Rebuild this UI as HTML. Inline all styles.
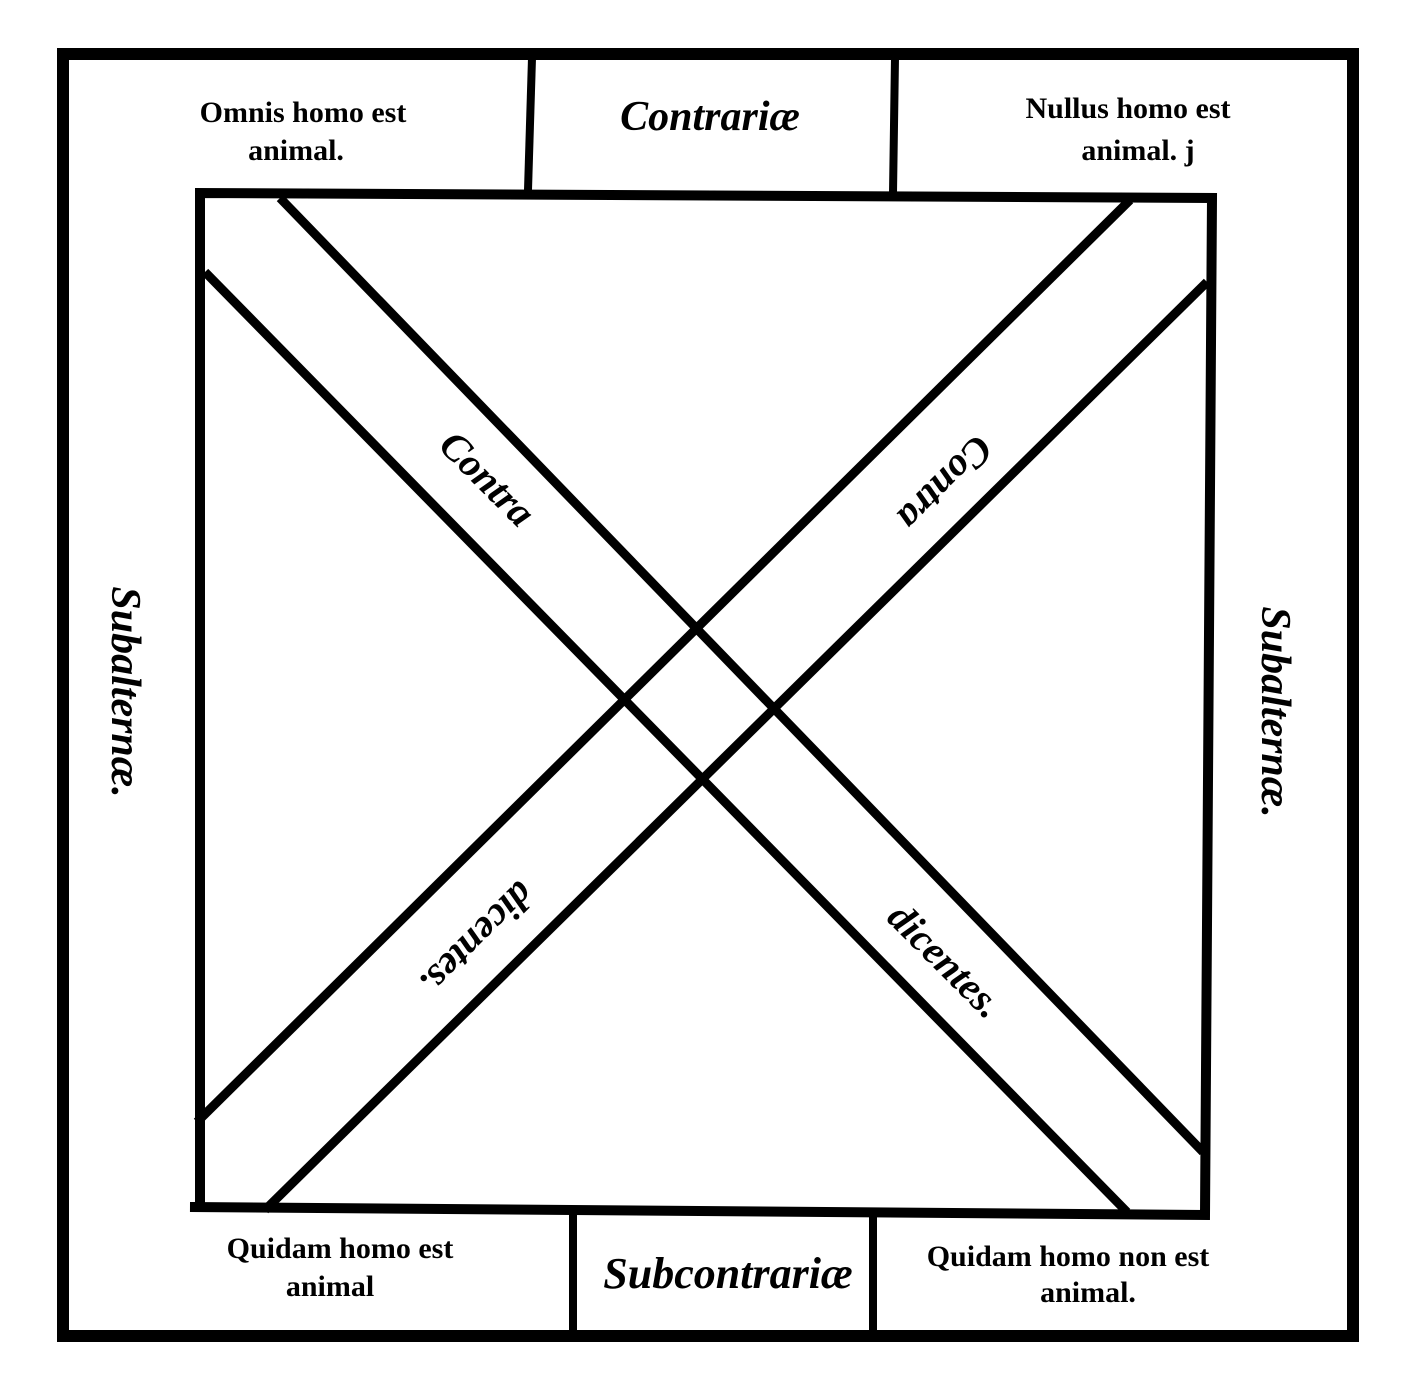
<!DOCTYPE html>
<html><head><meta charset="utf-8"><style>
html,body{margin:0;padding:0;background:#fff}
svg{display:block}
text{font-family:"Liberation Serif",serif;fill:#000;font-weight:bold}
.i{font-style:italic}
</style></head><body>
<svg width="1418" height="1386" viewBox="0 0 1418 1386" xmlns="http://www.w3.org/2000/svg">
<g stroke="#000" fill="none" stroke-linecap="square">
<rect x="63" y="54" width="1290" height="1282" stroke-width="12"/>
<polyline points="200,1207 200,193 1212,198 1205,1215 190,1207 200,1207" stroke-width="10"/>
<line x1="532" y1="58" x2="528" y2="190" stroke-width="8"/>
<line x1="895" y1="58" x2="893" y2="193" stroke-width="8"/>
<line x1="573" y1="1213" x2="573" y2="1333" stroke-width="8"/>
<line x1="873" y1="1215" x2="873" y2="1333" stroke-width="8"/>
<g stroke-width="9" stroke-linecap="butt">
<line x1="280" y1="198" x2="1203" y2="1152"/>
<line x1="205" y1="272" x2="1127" y2="1212"/>
<line x1="1130" y1="200" x2="197" y2="1122"/>
<line x1="1207" y1="282" x2="265" y2="1210"/>
</g>
</g>
<text x="303" y="122" font-size="30" text-anchor="middle">Omnis homo est</text>
<text x="296" y="160" font-size="30" text-anchor="middle">animal.</text>
<text x="710" y="130" font-size="42" class="i" text-anchor="middle">Contrariæ</text>
<text x="1128" y="118" font-size="30" text-anchor="middle">Nullus homo est</text>
<text x="1138" y="160" font-size="30" text-anchor="middle">animal. j</text>
<text x="340" y="1258" font-size="30" text-anchor="middle">Quidam homo est</text>
<text x="330" y="1296" font-size="30" text-anchor="middle">animal</text>
<text x="728" y="1288" font-size="44" class="i" text-anchor="middle">Subcontrariæ</text>
<text x="1068" y="1266" font-size="30" text-anchor="middle">Quidam homo non est</text>
<text x="1088" y="1302" font-size="30" text-anchor="middle">animal.</text>
<text transform="translate(112,692) rotate(90)" font-size="42" class="i" text-anchor="middle">Subalternæ.</text>
<text transform="translate(1262,712) rotate(90)" font-size="42" class="i" text-anchor="middle">Subalternæ.</text>
<text transform="translate(478,488) rotate(45)" font-size="40" class="i" text-anchor="middle">Contra</text>
<text transform="translate(936,970) rotate(45)" font-size="40" class="i" text-anchor="middle">dicentes.</text>
<text transform="translate(936,474) rotate(135)" font-size="40" class="i" text-anchor="middle">Contra</text>
<text transform="translate(468,930) rotate(135)" font-size="40" class="i" text-anchor="middle">dicentes.</text>
</svg>
</body></html>
